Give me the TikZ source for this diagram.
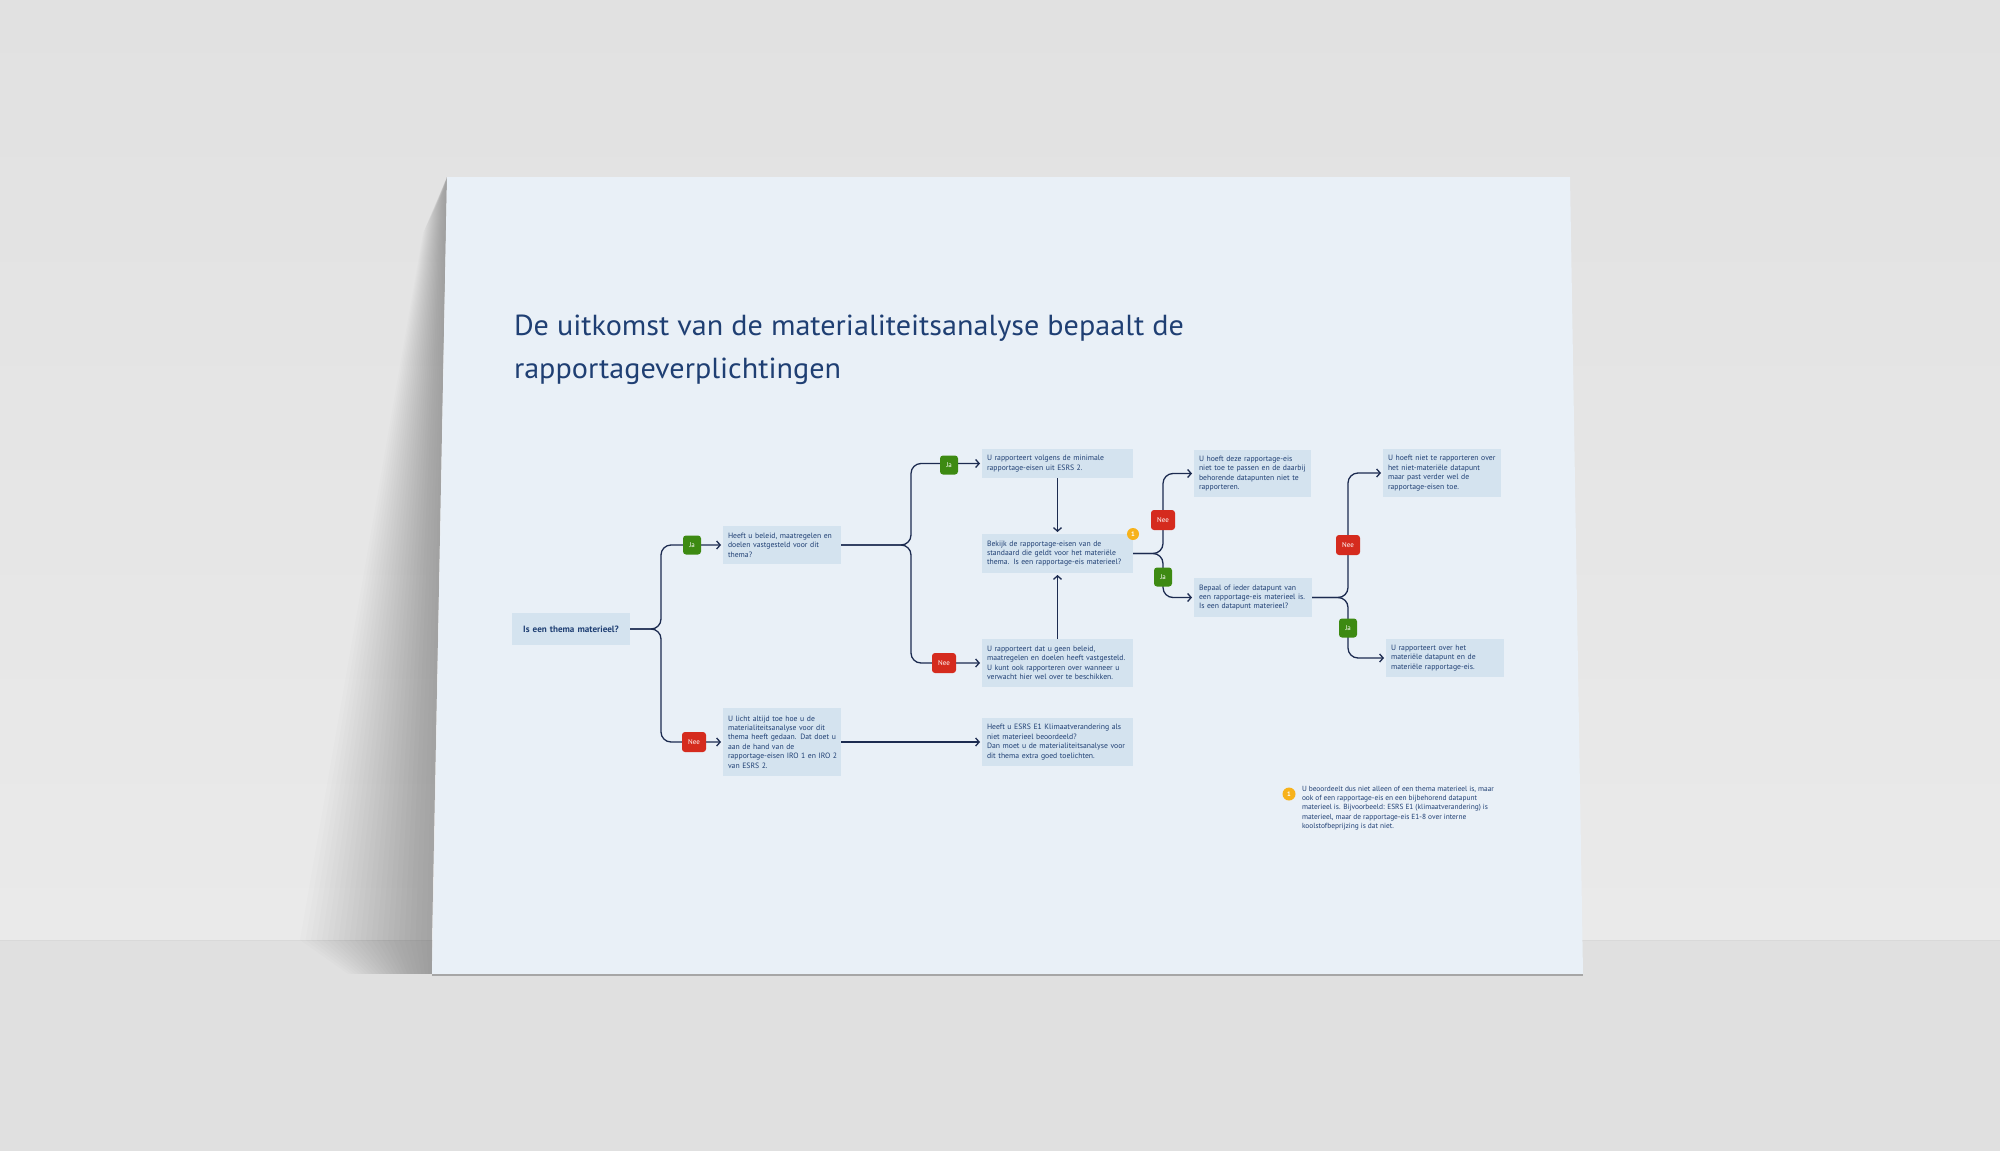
\documentclass[tikz,border=0pt]{standalone}
\usepackage{fontspec}
\setmainfont{PT Sans}
\newfontfamily\kopfont{PT Sans}[FakeStretch=1.04]
\usetikzlibrary{arrows.meta}
\definecolor{wandboven}{HTML}{E1E1E1}
\definecolor{wandonder}{HTML}{EAEAEA}
\definecolor{vloer}{HTML}{E0E0E0}
\definecolor{papier}{HTML}{E9F0F7}
\definecolor{vakblauw}{HTML}{D4E3EF}
\definecolor{tekstblauw}{HTML}{1F3F73}
\definecolor{lijnblauw}{HTML}{1C2B50}
\definecolor{jagroen}{HTML}{3D8A12}
\definecolor{neerood}{HTML}{D52B1E}
\definecolor{nootgeel}{HTML}{F7B21B}

\begin{document}
\begin{tikzpicture}[y=1pt, x=1pt, yscale=-1, inner sep=0pt, outer sep=0pt,
	vak/.style={fill=vakblauw, text=tekstblauw, align=left, inner xsep=5, anchor=north west, font=\fontsize{7.7}{9.4}\selectfont},
	ja/.style={fill=jagroen, text=white, rounded corners=3, minimum width=18, minimum height=19, font=\fontsize{7}{7}\selectfont},
	nee/.style={fill=neerood, text=white, rounded corners=3, minimum width=24, minimum height=20, font=\fontsize{7}{7}\selectfont},
	noot/.style={circle, fill=nootgeel, text=white, minimum size=12, font=\fontsize{6.5}{6.5}\selectfont\bfseries},
	pijl/.style={draw=lijnblauw, line width=1.3, rounded corners=10, shorten >=2pt, -{Straight Barb[length=3.5pt,width=8pt]}}]
\useasboundingbox (0,0) rectangle (2000,1151);
\shade[top color=wandboven, bottom color=wandonder] (0,0) rectangle (2000,940);
\fill[vloer] (0,940) rectangle (2000,1151);
\draw[gray!30, line width=1] (0,940) -- (2000,940);
\foreach \k in {1,...,24} {
	\fill[black, opacity=0.013] (447,177) -- (447-1*\k,185+2*\k) -- (432-5.5*\k,940) -- (432,940) -- cycle;
	\fill[black, opacity=0.012] (432,940) -- (432-5.5*\k,940) -- (432-3.5*\k,974) -- (432,974) -- cycle;
}
\fill[papier] (447,177) -- (1570,177) -- (1583,974) -- (432,974) -- cycle;
\draw[gray!70, line width=2] (432,975) -- (1583,975);

\node[anchor=base west, text=tekstblauw, font=\kopfont\fontsize{29}{29}\selectfont] (T1) at (514,335) {De uitkomst van de materialiteitsanalyse bepaalt de};
\node[anchor=base west, text=tekstblauw, font=\kopfont\fontsize{29}{29}\selectfont] (T2) at (514,378) {rapportageverplichtingen};

\node[vak, align=center, text width=108pt, minimum height=32, font=\fontsize{9.1}{9.4}\selectfont\bfseries] (A) at (512,613) {Is een thema materieel?};
\node[vak, text width=108pt, minimum height=38] (B) at (723,526) {Heeft u beleid, maatregelen en\\doelen vastgesteld voor dit\\thema?};
\node[vak, text width=108pt, minimum height=68] (C) at (723,708) {U licht altijd toe hoe u de\\materialiteitsanalyse voor dit\\thema heeft gedaan. Dat doet u\\aan de hand van de\\\makebox[108pt][l]{rapportage-eisen IRO 1 en IRO 2}\\van ESRS 2.};
\node[vak, text width=141pt, minimum height=29] (D) at (982,449) {U rapporteert volgens de minimale\\rapportage-eisen uit ESRS 2.};
\node[vak, text width=141pt, minimum height=39] (E) at (982,534) {Bekijk de rapportage-eisen van de\\standaard die geldt voor het materiële\\thema. Is een rapportage-eis materieel?};
\node[vak, text width=141pt, minimum height=48] (F) at (982,639) {U rapporteert dat u geen beleid,\\maatregelen en doelen heeft vastgesteld.\\U kunt ook rapporteren over wanneer u\\verwacht hier wel over te beschikken.};
\node[vak, text width=141pt, minimum height=48] (G) at (982,718) {Heeft u ESRS E1 Klimaatverandering als\\niet materieel beoordeeld?\\Dan moet u de materialiteitsanalyse voor\\dit thema extra goed toelichten.};
\node[vak, text width=107pt, minimum height=47] (H) at (1194,450) {U hoeft deze rapportage-eis\\niet toe te passen en de daarbij\\behorende datapunten niet te\\rapporteren.};
\node[vak, text width=108pt, minimum height=39] (I) at (1194,578) {Bepaal of ieder datapunt van\\een rapportage-eis materieel is.\\Is een datapunt materieel?};
\node[vak, text width=108pt, minimum height=48] (J) at (1383,449) {U hoeft niet te rapporteren over\\het niet-materiële datapunt\\maar past verder wel de\\rapportage-eisen toe.};
\node[vak, text width=108pt, minimum height=38] (K) at (1386,639) {U rapporteert over het\\materiële datapunt en de\\materiële rapportage-eis.};

\draw[pijl] (A.east) -- ++(31,0) |- (B.west);
\draw[pijl] (A.east) -- ++(31,0) |- (C.west);
\draw[pijl] (B.east) -- ++(70,0) |- (D.west);
\draw[pijl] (B.east) -- ++(70,0) |- (F.west);
\draw[pijl] (C.east) -- (G.west);
\draw[pijl] (D.south) -- (E.north);
\draw[pijl] (F.north) -- (E.south);
\draw[pijl] (E.east) -- ++(30,0) |- (H.west);
\draw[pijl] (E.east) -- ++(30,0) |- (I.west);
\draw[pijl] (I.east) -- ++(36,0) |- (J.west);
\draw[pijl] (I.east) -- ++(36,0) |- (K.west);

\node[ja] (ja1) at (692,545) {Ja};
\node[nee] (nee1) at (694,742) {Nee};
\node[ja] (ja2) at (949,465) {Ja};
\node[nee] (nee2) at (944,663) {Nee};
\node[nee] (nee3) at (1163,520) {Nee};
\node[ja] (ja3) at (1163,577) {Ja};
\node[nee] (nee4) at (1348,545) {Nee};
\node[ja] (ja4) at (1348,628) {Ja};

\node[noot] (N1) at (E.north east) {1};
\node[noot, minimum size=13] (N2) at (1289,794) {1};
\node[anchor=north west, align=left, text=tekstblauw, font=\fontsize{7.4}{9.3}\selectfont] (L) at (1302,786) {U beoordeelt dus niet alleen of een thema materieel is, maar\\ook of een rapportage-eis en een bijbehorend datapunt\\materieel is. Bijvoorbeeld: ESRS E1 (klimaatverandering) is\\materieel, maar de rapportage-eis E1-8 over interne\\koolstofbeprijzing is dat niet.};
\end{tikzpicture}
\end{document}
